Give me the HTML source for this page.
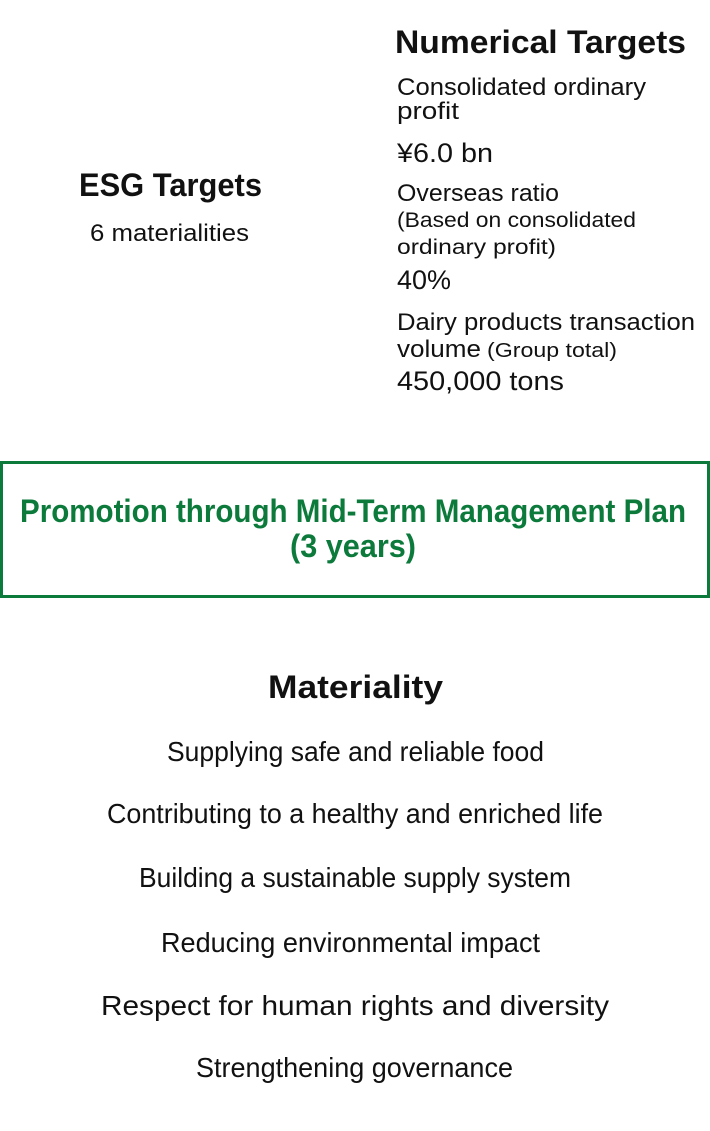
<!DOCTYPE html>
<html><head><meta charset="utf-8"><style>
html,body{margin:0;padding:0;background:#fff}
svg{display:block}
text{font-family:"Liberation Sans",sans-serif;fill:#111}
.b{font-weight:bold}
.g{fill:#0b7a3b;font-weight:bold;font-family:"Liberation Sans Narrow","Liberation Sans",sans-serif}
</style></head><body>
<svg width="710" height="1131" viewBox="0 0 710 1131" xmlns="http://www.w3.org/2000/svg">
<text class="b" x="395" y="53" font-size="32" textLength="291" lengthAdjust="spacingAndGlyphs">Numerical Targets</text>
<text x="397" y="95" font-size="24" textLength="249" lengthAdjust="spacingAndGlyphs">Consolidated ordinary</text>
<text x="397" y="119" font-size="24" textLength="62" lengthAdjust="spacingAndGlyphs">profit</text>
<text x="397" y="162" font-size="27" textLength="96" lengthAdjust="spacingAndGlyphs">¥6.0 bn</text>
<text x="397" y="201" font-size="24" textLength="162" lengthAdjust="spacingAndGlyphs">Overseas ratio</text>
<text x="397" y="227" font-size="21" textLength="239" lengthAdjust="spacingAndGlyphs">(Based on consolidated</text>
<text x="397" y="254" font-size="21" textLength="159" lengthAdjust="spacingAndGlyphs">ordinary profit)</text>
<text x="397" y="289" font-size="27" textLength="54" lengthAdjust="spacingAndGlyphs">40%</text>
<text x="397" y="330" font-size="24" textLength="298" lengthAdjust="spacingAndGlyphs">Dairy products transaction</text>
<text x="397" y="357" font-size="24" textLength="84" lengthAdjust="spacingAndGlyphs">volume</text>
<text x="487" y="357" font-size="20" textLength="130" lengthAdjust="spacingAndGlyphs">(Group total)</text>
<text x="397" y="390" font-size="27" textLength="167" lengthAdjust="spacingAndGlyphs">450,000 tons</text>
<text class="b" x="79" y="196" font-size="32" textLength="183" lengthAdjust="spacingAndGlyphs">ESG Targets</text>
<text x="90" y="241" font-size="24" textLength="159" lengthAdjust="spacingAndGlyphs">6 materialities</text>
<rect x="1.5" y="462.5" width="707" height="134" fill="none" stroke="#0b7a3b" stroke-width="3"/>
<text class="g" x="20" y="522" font-size="32" textLength="666" lengthAdjust="spacingAndGlyphs">Promotion through Mid-Term Management Plan</text>
<text class="g" x="290" y="557" font-size="32" textLength="126" lengthAdjust="spacingAndGlyphs">(3 years)</text>
<text class="b" x="268" y="698" font-size="32" textLength="175" lengthAdjust="spacingAndGlyphs">Materiality</text>
<text x="167" y="761" font-size="28" textLength="377" lengthAdjust="spacingAndGlyphs">Supplying safe and reliable food</text>
<text x="107" y="823" font-size="28" textLength="496" lengthAdjust="spacingAndGlyphs">Contributing to a healthy and enriched life</text>
<text x="139" y="887" font-size="28" textLength="432" lengthAdjust="spacingAndGlyphs">Building a sustainable supply system</text>
<text x="161" y="952" font-size="28" textLength="379" lengthAdjust="spacingAndGlyphs">Reducing environmental impact</text>
<text x="101" y="1015" font-size="28" textLength="508" lengthAdjust="spacingAndGlyphs">Respect for human rights and diversity</text>
<text x="196" y="1077" font-size="28" textLength="317" lengthAdjust="spacingAndGlyphs">Strengthening governance</text>
</svg>
</body></html>
